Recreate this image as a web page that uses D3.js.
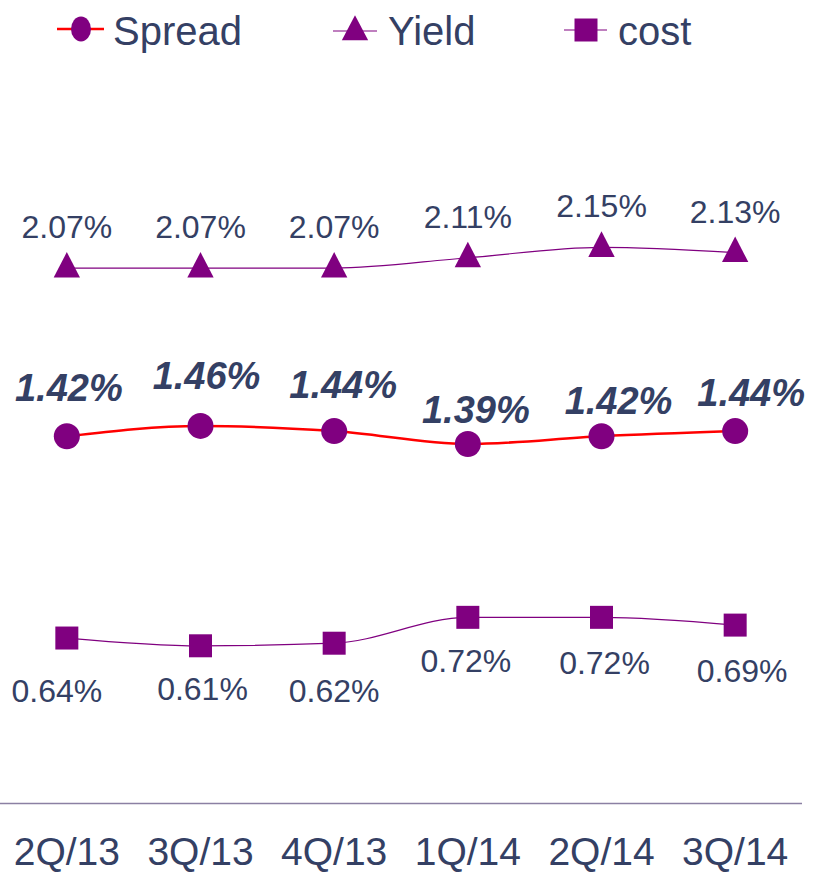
<!DOCTYPE html>
<html lang="en">
  <head>
    <meta charset="UTF-8" />
    <title>Spread, Yield and cost</title>
    <script src="https://cdn.jsdelivr.net/npm/d3@7"></script>
    <style>
      body { margin: 0; background: #fff; }
      text { font-family: "Liberation Sans", Arial, sans-serif; fill: #344064; }
      .spread-line { fill: none; stroke: #ff0000; stroke-width: 2.5px; }
      .thin-line { fill: none; stroke: #800080; stroke-width: 1.2px; }
      .marker { fill: #800080; }
      .base-line { stroke: #8b80a3; stroke-width: 1.5px; }
    </style>
  </head>
  <body>
    <script>
      // Data
      var quarters = ["2Q/13", "3Q/13", "4Q/13", "1Q/14", "2Q/14", "3Q/14"];
      var spread = [1.42, 1.46, 1.44, 1.39, 1.42, 1.44];
      var yieldRate = [2.07, 2.07, 2.07, 2.11, 2.15, 2.13];
      var cost = [0.64, 0.61, 0.62, 0.72, 0.72, 0.69];

      // label nudges (the labels were hand-placed in the original)
      var spreadNudge = [[2, -35], [6, -37], [9, -33], [8, -21], [17, -22], [16, -25]];
      var costNudge = [[-10, 64], [2, 54], [0, 59], [-2, 55], [3, 57], [7, 57]];

      var w = 813, h = 872;

      var svg = d3.select("body").append("svg")
        .attr("width", w)
        .attr("height", h);

      var xScale = d3.scaleBand()
        .domain(quarters)
        .range([0, 802])
        .padding(0);

      var yScale = d3.scaleLinear()
        .domain([0, 3])
        .range([803.6, 27.5]);

      function cx(i) { return xScale(quarters[i]) + xScale.bandwidth() / 2; }

      var line = d3.line()
        .x(function(d, i) { return cx(i); })
        .y(function(d) { return yScale(d); })
        .curve(d3.curveMonotoneX);

      // base line + category labels
      svg.append("line")
        .attr("class", "base-line")
        .attr("x1", 0).attr("x2", 802)
        .attr("y1", yScale(0)).attr("y2", yScale(0));

      var xAxis = d3.axisBottom(xScale).tickSize(0).tickPadding(0);
      var ax = svg.append("g")
        .attr("transform", "translate(0," + yScale(0) + ")")
        .call(xAxis);
      ax.select(".domain").remove();
      ax.selectAll("text")
        .attr("dy", null)
        .attr("y", 61)
        .style("font-size", "39px")
        .style("font-family", "'Liberation Sans', Arial, sans-serif")
        .attr("fill", "#344064");

      // lines
      svg.append("path").datum(yieldRate).attr("class", "thin-line").attr("d", line);
      svg.append("path").datum(cost).attr("class", "thin-line").attr("d", line);
      svg.append("path").datum(spread).attr("class", "spread-line").attr("d", line);

      // markers
      var tri = d3.symbol().type(d3.symbolTriangle).size(300);
      var sq = d3.symbol().type(d3.symbolSquare).size(23 * 23);

      svg.selectAll(".yield-mark")
        .data(yieldRate)
        .enter().append("path")
        .attr("class", "marker")
        .attr("d", tri)
        .attr("transform", function(d, i) { return "translate(" + cx(i) + "," + (yScale(d) + 1) + ") scale(1,1.12)"; });

      svg.selectAll(".cost-mark")
        .data(cost)
        .enter().append("path")
        .attr("class", "marker")
        .attr("d", sq)
        .attr("transform", function(d, i) { return "translate(" + cx(i) + "," + yScale(d) + ")"; });

      svg.selectAll(".spread-mark")
        .data(spread)
        .enter().append("circle")
        .attr("class", "marker")
        .attr("cx", function(d, i) { return cx(i); })
        .attr("cy", function(d) { return yScale(d); })
        .attr("r", 13);

      // value labels
      svg.selectAll(".yield-label")
        .data(yieldRate)
        .enter().append("text")
        .attr("text-anchor", "middle")
        .attr("x", function(d, i) { return cx(i); })
        .attr("y", function(d) { return yScale(d) - 30; })
        .style("font-size", "32px")
        .text(function(d) { return d.toFixed(2) + "%"; });

      svg.selectAll(".cost-label")
        .data(cost)
        .enter().append("text")
        .attr("text-anchor", "middle")
        .attr("x", function(d, i) { return cx(i) + costNudge[i][0]; })
        .attr("y", function(d, i) { return yScale(d) + costNudge[i][1]; })
        .style("font-size", "32px")
        .text(function(d) { return d.toFixed(2) + "%"; });

      svg.selectAll(".spread-label")
        .data(spread)
        .enter().append("text")
        .attr("text-anchor", "middle")
        .attr("x", function(d, i) { return cx(i) + spreadNudge[i][0]; })
        .attr("y", function(d, i) { return yScale(d) + spreadNudge[i][1]; })
        .style("font-size", "38px")
        .style("font-weight", "bold")
        .style("font-style", "italic")
        .text(function(d) { return d.toFixed(2) + "%"; });

      // legend
      var legend = svg.append("g");

      legend.append("line").attr("x1", 57).attr("x2", 104).attr("y1", 29).attr("y2", 29)
        .attr("stroke", "#ff0000").attr("stroke-width", 2.5);
      legend.append("ellipse").attr("class", "marker")
        .attr("cx", 81).attr("cy", 29).attr("rx", 10).attr("ry", 12.5);
      legend.append("text").attr("x", 113).attr("y", 45).style("font-size", "40px").text("Spread");

      legend.append("line").attr("x1", 333).attr("x2", 377).attr("y1", 31).attr("y2", 31)
        .attr("stroke", "#800080").attr("stroke-width", 1.2);
      legend.append("path").attr("class", "marker").attr("d", tri)
        .attr("transform", "translate(355,32) scale(1,1.1)");
      legend.append("text").attr("x", 388).attr("y", 45).style("font-size", "40px").text("Yield");

      legend.append("line").attr("x1", 564).attr("x2", 607).attr("y1", 30).attr("y2", 30)
        .attr("stroke", "#800080").attr("stroke-width", 1.2);
      legend.append("path").attr("class", "marker").attr("d", sq)
        .attr("transform", "translate(586,30)");
      legend.append("text").attr("x", 618).attr("y", 45).style("font-size", "40px").text("cost");
    </script>
  </body>
</html>
